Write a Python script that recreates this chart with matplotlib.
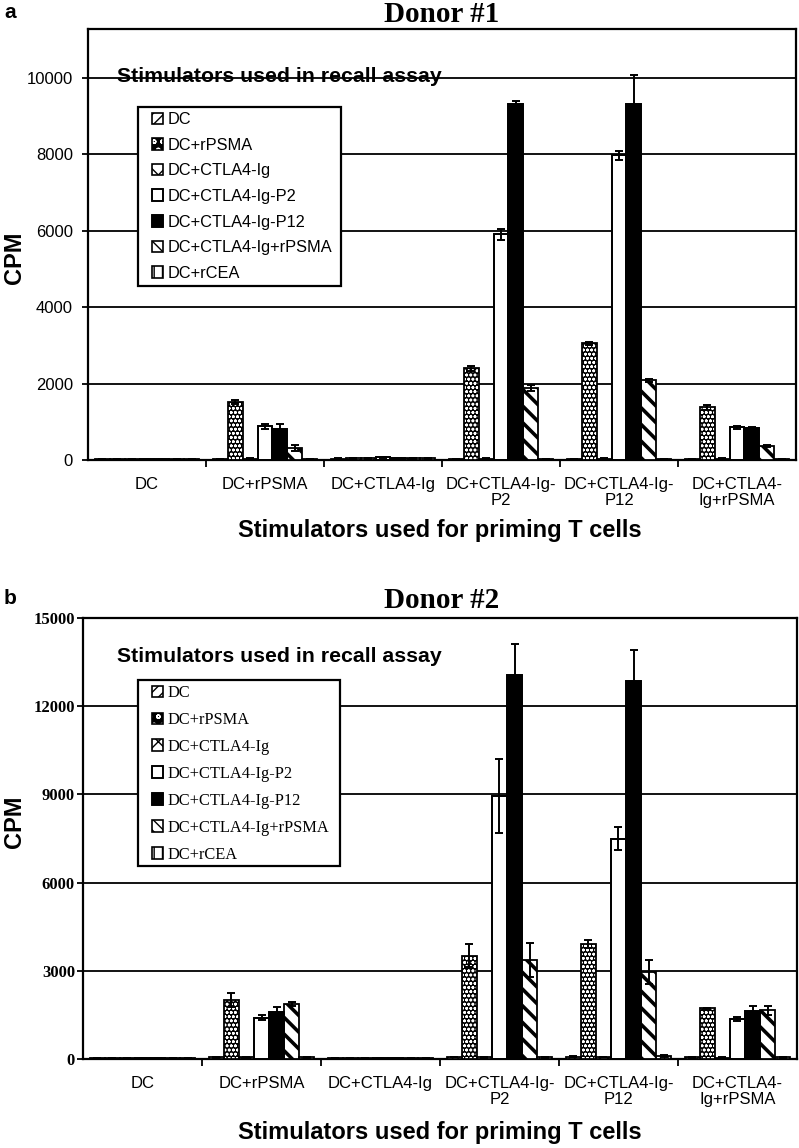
import matplotlib
matplotlib.use("Agg")
import matplotlib.pyplot as plt
import matplotlib.patches as mpatches
from matplotlib.legend_handler import HandlerTuple
import numpy as np

W, H = 799, 1148

groups_a = ["DC", "DC+rPSMA", "DC+CTLA4-Ig", "DC+CTLA4-Ig-\nP2", "DC+CTLA4-Ig-\nP12", "DC+CTLA4-\nIg+rPSMA"]
groups_b = ["DC", "DC+rPSMA", "DC+CTLA4-Ig", "DC+CTLA4-Ig-\nP2", "DC+CTLA4-Ig-\nP12", "DC+CTLA4-\nIg+rPSMA"]
series = ["DC", "DC+rPSMA", "DC+CTLA4-Ig", "DC+CTLA4-Ig-P2", "DC+CTLA4-Ig-P12", "DC+CTLA4-Ig+rPSMA", "DC+rCEA"]

# Donor #1 values
a_DC = [25, 30, 35, 30, 30, 30]
a_rPSMA = [25, 1520, 40, 2400, 3050, 1380]
a_CTLA4 = [25, 35, 40, 35, 35, 35]
a_P2 = [25, 880, 70, 5900, 7970, 850]
a_P12 = [25, 810, 40, 9300, 9300, 840]
a_IgrPSMA = [25, 310, 40, 1890, 2090, 370]
a_rCEA = [25, 30, 40, 30, 30, 30]
a_DC_err = [5, 5, 5, 5, 5, 5]
a_rPSMA_err = [5, 60, 10, 70, 30, 60]
a_CTLA4_err = [5, 5, 5, 5, 5, 5]
a_P2_err = [5, 70, 20, 150, 120, 30]
a_P12_err = [5, 130, 10, 100, 770, 20]
a_IgrPSMA_err = [5, 80, 10, 80, 40, 20]
a_rCEA_err = [5, 5, 5, 5, 5, 5]

# Donor #2 values
b_DC = [30, 60, 30, 70, 80, 60]
b_rPSMA = [30, 2010, 30, 3520, 3920, 1720]
b_CTLA4 = [30, 60, 30, 60, 70, 50]
b_P2 = [30, 1400, 40, 8950, 7500, 1370]
b_P12 = [30, 1610, 30, 13070, 12850, 1620]
b_IgrPSMA = [30, 1880, 30, 3380, 2960, 1650]
b_rCEA = [30, 60, 30, 60, 110, 60]
b_DC_err = [5, 10, 5, 10, 10, 10]
b_rPSMA_err = [5, 240, 5, 400, 130, 30]
b_CTLA4_err = [5, 10, 5, 10, 10, 10]
b_P2_err = [5, 80, 5, 1250, 390, 70]
b_P12_err = [5, 170, 5, 1050, 1060, 170]
b_IgrPSMA_err = [5, 70, 5, 580, 410, 150]
b_rCEA_err = [5, 10, 5, 10, 30, 10]

a_vals = [a_DC, a_rPSMA, a_CTLA4, a_P2, a_P12, a_IgrPSMA, a_rCEA]
a_errs = [a_DC_err, a_rPSMA_err, a_CTLA4_err, a_P2_err, a_P12_err, a_IgrPSMA_err, a_rCEA_err]
b_vals = [b_DC, b_rPSMA, b_CTLA4, b_P2, b_P12, b_IgrPSMA, b_rCEA]
b_errs = [b_DC_err, b_rPSMA_err, b_CTLA4_err, b_P2_err, b_P12_err, b_IgrPSMA_err, b_rCEA_err]

# styles: (facecolor, hatch color, hatch, hatch lw)
styles = [
    ("white", "black", "//////", 0.8),
    ("black", "white", "oooo", 0.8),
    ("white", "black", "xxxx", 0.8),
    ("white", "black", None, 1.0),
    ("black", "black", None, 1.0),
    ("white", "black", "\\\\", 2.6),
    ("white", "black", "||||", 0.8),
]
leg_hatches = ["///", "oo", "xx", None, None, "\\\\\\", "||"]

SANS = ["Liberation Sans", "DejaVu Sans"]
SERIF = ["Liberation Serif", "DejaVu Serif"]

fig = plt.figure(figsize=(W / 100, H / 100), dpi=100)


def px(x, y):
    return x / W, 1 - y / H


def draw_panel(rect, vals, errs, groups, ymax, yticks, tick_family, tick_weight, tick_size, tick_pad,
               frame_box, leg_anchor, leg_family, leg_size, leg_spacing):
    ax = fig.add_axes(rect)
    n = len(series)
    bw = 0.127
    x = np.arange(len(groups))
    handles = []
    for i in range(n):
        fc, hc, hatch, hlw = styles[i]
        pos = x + (i - (n - 1) / 2) * bw
        with plt.rc_context({"hatch.linewidth": hlw}):
            if hatch is not None:
                ax.bar(pos, vals[i], bw, color=fc, edgecolor=hc, hatch=hatch,
                       linewidth=0, zorder=3)
            else:
                ax.bar(pos, vals[i], bw, color=fc, edgecolor="black", linewidth=1.3, zorder=3)
        ax.bar(pos, vals[i], bw, facecolor="none", edgecolor="black", linewidth=1.3, zorder=4)
        ax.errorbar(pos, vals[i], yerr=errs[i], fmt="none", ecolor="black", elinewidth=1.4,
                    capsize=3.2, capthick=1.4, zorder=5)
        lh = leg_hatches[i]
        with plt.rc_context({"hatch.linewidth": 1.6 if i == 5 else 0.8}):
            if lh is not None:
                p1 = mpatches.Rectangle((0, 0), 1, 1, facecolor=fc, edgecolor=hc, hatch=lh, linewidth=0)
            else:
                p1 = mpatches.Rectangle((0, 0), 1, 1, facecolor=fc, edgecolor="black", linewidth=1.2)
        p2 = mpatches.Rectangle((0, 0), 1, 1, facecolor="none", edgecolor="black", linewidth=1.2)
        handles.append((p1, p2))
    ax.set_xlim(-0.5, len(groups) - 0.5)
    ax.set_ylim(0, ymax)
    ax.set_yticks(yticks)
    ax.set_yticklabels([str(t) for t in yticks], family=tick_family, weight=tick_weight, fontsize=tick_size)
    ax.yaxis.grid(True, color="black", linewidth=1.3, zorder=0)
    ax.set_axisbelow(True)
    ax.set_xticks(x)
    ax.set_xticklabels(groups, family=SANS, fontsize=12, linespacing=1.15)
    ax.tick_params(axis="x", which="major", length=0, pad=12)
    ax.set_xticks(np.arange(0.5, len(groups) - 0.5, 1), minor=True)
    ax.tick_params(axis="x", which="minor", length=5, width=1.3, direction="out")
    ax.tick_params(axis="y", which="major", length=4.3, width=1.3, direction="out", pad=tick_pad)
    for s in ax.spines.values():
        s.set_linewidth(1.6)
        s.set_color("black")
    # legend frame drawn explicitly
    x0, y0, x1, y1 = frame_box
    frame = mpatches.Rectangle((x0 / W, 1 - y1 / H), (x1 - x0) / W, (y1 - y0) / H,
                               transform=fig.transFigure, facecolor="white", edgecolor="black",
                               linewidth=1.6, zorder=9)
    fig.add_artist(frame)
    leg = fig.legend(handles, series, loc="upper left", bbox_to_anchor=leg_anchor,
                     bbox_transform=fig.transFigure, frameon=False,
                     prop={"family": leg_family, "size": leg_size},
                     handlelength=0.7, handleheight=0.7, handletextpad=0.25,
                     labelspacing=leg_spacing, borderpad=0, borderaxespad=0,
                     handler_map={tuple: HandlerTuple(ndivide=1, pad=0)})
    leg.set_zorder(10)
    return ax


ax_a = draw_panel([88 / W, 1 - 460 / H, 708 / W, 431 / H], a_vals, a_errs, groups_a, 11270,
                  [0, 2000, 4000, 6000, 8000, 10000], SANS, "normal", 12, 6.5,
                  (138, 107, 341, 286), px(152, 112), SANS, 11.8, 0.65)
ax_b = draw_panel([83 / W, 1 - 1059 / H, 714 / W, 441 / H], b_vals, b_errs, groups_b, 15000,
                  [0, 3000, 6000, 9000, 12000, 15000], SERIF, "bold", 12, 1.5,
                  (138, 680, 340, 866), px(152, 685), SERIF, 11.8, 0.67)

# texts
fig.text(*px(4, 12), "a", family=SANS, weight="bold", fontsize=15, va="center", ha="left")
fig.text(*px(4, 598), "b", family=SANS, weight="bold", fontsize=15, va="center", ha="left")
fig.text(*px(442, 14), "Donor #1", family=SERIF, weight="bold", fontsize=21, va="center", ha="center")
fig.text(*px(442, 601), "Donor #2", family=SERIF, weight="bold", fontsize=21, va="center", ha="center")
fig.text(*px(117, 77), "Stimulators used in recall assay", family=SANS, weight="bold", fontsize=15.3,
         va="center", ha="left")
fig.text(*px(117, 657), "Stimulators used in recall assay", family=SANS, weight="bold", fontsize=15.3,
         va="center", ha="left")
fig.text(*px(14, 258), "CPM", family=SANS, weight="bold", fontsize=17, va="center", ha="center",
         rotation=90)
fig.text(*px(14, 822), "CPM", family=SANS, weight="bold", fontsize=17, va="center", ha="center",
         rotation=90)
fig.text(*px(440, 530), "Stimulators used for priming T cells", family=SANS, weight="bold",
         fontsize=17, va="center", ha="center")
fig.text(*px(440, 1132), "Stimulators used for priming T cells", family=SANS, weight="bold",
         fontsize=17, va="center", ha="center")

fig.savefig("out.png", dpi=100)
